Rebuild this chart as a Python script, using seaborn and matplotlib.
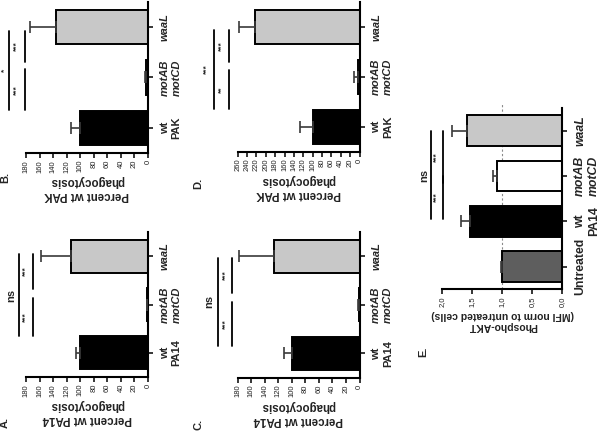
import numpy as np
import pandas as pd
import matplotlib
matplotlib.use("Agg")
import matplotlib.pyplot as plt
import seaborn as sns

sns.set_theme(style="white")
plt.rcParams['font.family'] = ['Liberation Sans', 'DejaVu Sans']

# ---------------- data ----------------
strains_pa14 = ["wt\nPA14", "motAB\nmotCD", "waaL"]
strains_pak = ["wt\nPAK", "motAB\nmotCD", "waaL"]
strains_e = ["Untreated", "wt\nPA14", "motAB\nmotCD", "waaL"]

a_vals = [100, 1, 113]
a_errs = [6, 0.5, 45]
b_vals = [100, 3, 136]
b_errs = [14, 2, 38]
c_vals = [100, 1, 127]
c_errs = [12, 0.5, 51]
d_vals = [100, 4, 223]
d_errs = [27, 7, 34]
e_vals = [1.0, 1.54, 1.08, 1.58]
e_errs = [0.02, 0.14, 0.07, 0.26]

ticks_180 = [0, 20, 40, 60, 80, 100, 120, 140, 160, 180]
ticks_260 = [0, 20, 40, 60, 80, 100, 120, 140, 160, 180, 200, 220, 240, 260]
ticks_e = [0.0, 0.5, 1.0, 1.5, 2.0]
ticklabels_e = ["0,0", "0,5", "1,0", "1,5", "2,0"]

colors3 = ["black", "white", "#c8c8c8"]
colors4 = ["#5e5e5e", "black", "white", "#c8c8c8"]

# significance annotations: (from category, to category, line value, label, label value)
sig_a = [(0.34, 1.14, 169, "***", 180), (1.33, 2.05, 169, "***", 180), (0.34, 2.05, 191, "ns", 202)]
sig_b = [(0.35, 1.16, 181.5, "***", 193), (1.30, 1.93, 181.5, "***", 193), (0.35, 1.93, 204.6, "*", 211)]
sig_c = [(0.15, 1.05, 187.7, "***", 198), (1.24, 1.97, 187.7, "***", 198), (0.15, 1.97, 208.8, "ns", 222)]
sig_d = [(0.36, 1.14, 278.5, "**", 294), (1.29, 1.94, 278.5, "***", 294), (0.36, 1.94, 310.6, "***", 326)]
sig_e = [(1.04, 2.01, 1.98, "***", 2.09), (1.84, 3.0, 1.98, "***", 2.09), (1.04, 3.0, 2.19, "ns", 2.30)]

W, H = 600, 432
fig = plt.figure(figsize=(6, 4.32), dpi=100)


def px_axes(x0, x1, y0, y1):
    return fig.add_axes([x0 / W, (H - y1) / H, (x1 - x0) / W, (y1 - y0) / H])


def panel(ax, cats, vals, errs, colors, xmax, ticks, ticklabels, xlabel, sigs, fs_cat=8):
    n = len(cats)
    df = pd.DataFrame({"strain": cats, "value": vals})
    sns.barplot(data=df, x="value", y="strain", hue="strain", order=cats,
                hue_order=cats, palette=colors, orient="h", ax=ax, width=0.68,
                edgecolor="black", linewidth=1.4, errorbar=None, legend=False,
                zorder=2)
    ax.errorbar(vals, np.arange(n), xerr=[np.zeros(n), errs], fmt="none",
                ecolor="#3a3a3a", elinewidth=1.2, capsize=4, capthick=1.2, zorder=3)
    ax.set_xlim(xmax, 0)
    ax.set_ylim(-0.5, n - 0.5)
    for s in ["top", "left"]:
        ax.spines[s].set_visible(False)
    for s in ["right", "bottom"]:
        ax.spines[s].set_visible(True)
        ax.spines[s].set_color("black")
        ax.spines[s].set_linewidth(1.5)
    ax.set_xticks(ticks)
    ax.set_xticklabels(ticklabels, rotation=90, color="#222222")
    ax.tick_params(axis="x", bottom=True, direction="out", length=3.5, width=1.1,
                   labelsize=5.5, pad=1.5, color="black")
    ax.yaxis.tick_right()
    ax.set_yticks(np.arange(n))
    ax.set_yticklabels(cats, rotation=90, va="center", ha="left",
                       multialignment="center", fontweight="bold", fontsize=fs_cat)
    for t in ax.get_yticklabels():
        if t.get_text() not in ("Untreated",) and not t.get_text().startswith("wt"):
            t.set_style("italic")
    ax.tick_params(axis="y", right=True, left=False, labelright=True, labelleft=False,
                   direction="out", length=3.5, width=1.1, pad=5, color="black")
    ax.set_ylabel("")
    ax.set_xlabel(xlabel, rotation=180, fontsize=8.3, fontweight="bold",
                  labelpad=2, color="#222222")
    for (y0, y1, xl, lab, xt) in sigs:
        ax.plot([xl, xl], [y0, y1], color="black", lw=1.3, clip_on=False, zorder=4)
        fs = 8 if lab == "ns" else 6
        ax.text(xt, (y0 + y1) / 2, lab, rotation=90, ha="center", va="center",
                fontsize=fs, fontweight="bold", clip_on=False)


axA = px_axes(26, 148, 232, 377)
axB = px_axes(26, 148, 2, 153)
axC = px_axes(237.7, 359.5, 232, 377.7)
axD = px_axes(237.7, 359.5, 2, 151.7)
axE = px_axes(442.3, 562.3, 108, 289.3)

lab_pa14 = "Percent wt PA14\nphagocytosis"
lab_pak = "Percent wt PAK\nphagocytosis"

panel(axA, strains_pa14, a_vals, a_errs, colors3, 180, ticks_180,
      [str(t) for t in ticks_180], lab_pa14, sig_a)
panel(axB, strains_pak, b_vals, b_errs, colors3, 180, ticks_180,
      [str(t) for t in ticks_180], lab_pak, sig_b)
panel(axC, strains_pa14, c_vals, c_errs, colors3, 180, ticks_180,
      [str(t) for t in ticks_180], lab_pa14, sig_c)
panel(axD, strains_pak, d_vals, d_errs, colors3, 260, ticks_260,
      [str(t) for t in ticks_260], lab_pak, sig_d)
axE.axvline(1.0, ymin=0, ymax=1.03, color="#8a8a8a", lw=0.8, ls=(0, (2, 2)),
            zorder=0, clip_on=False)
panel(axE, strains_e, e_vals, e_errs, colors4, 2.0, ticks_e, ticklabels_e,
      "Phospho-AKT\n(MFI norm to untreated cells)", sig_e, fs_cat=8.8)
axE.xaxis.label.set_fontsize(7.5)

for lab, (x, y) in {"A.": (5, 422), "B.": (5, 177), "C.": (198, 424),
                    "D.": (198, 183), "E.": (423, 352)}.items():
    fig.text(x / W, 1 - y / H, lab, rotation=90, ha="center", va="center",
             fontsize=8, fontweight="bold")

fig.savefig("out.png", dpi=100)
